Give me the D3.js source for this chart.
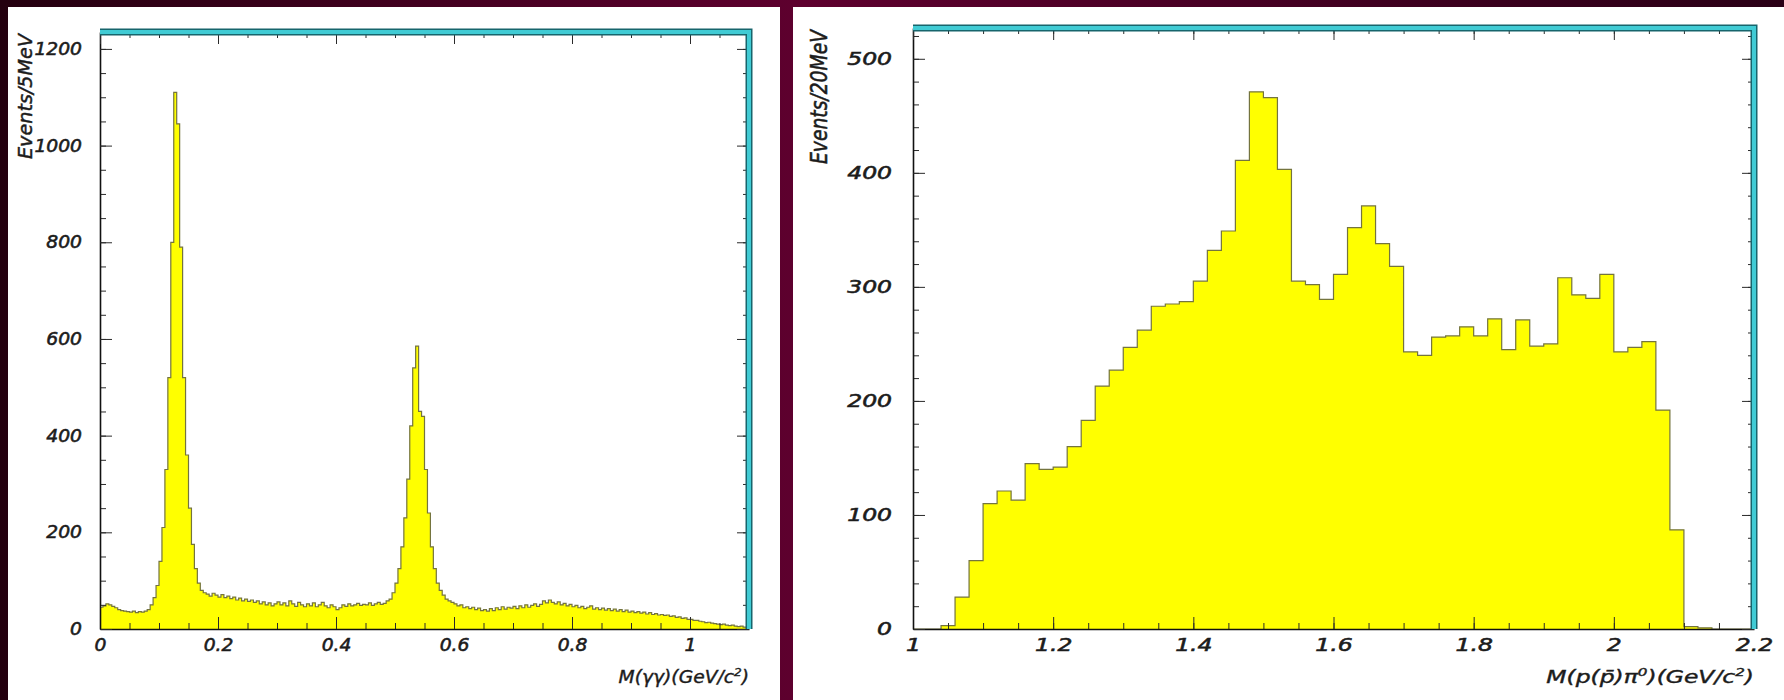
<!DOCTYPE html>
<html>
<head>
<meta charset="utf-8">
<script src="https://cdn.jsdelivr.net/npm/d3@7"></script>
<style>
  body { margin: 0; background: #3a001e; }
  svg { display: block; }
</style>
</head>
<body>
<svg id="chart" width="1784" height="700"></svg>
<script>
// M(gamma gamma), 5 MeV bins from 0 to 1.1 GeV
const ggRange = [0, 1.1];
const ggBin = 0.005;
const ggCounts = [
  45, 48, 52, 50, 47, 44, 40, 38, 37, 36,
  35, 37, 34, 36, 35, 37, 40, 50, 65, 90,
  140, 210, 330, 520, 800, 1110, 1045, 790, 520, 360,
  250, 175, 125, 95, 80, 75, 72, 68, 74, 70,
  66, 71, 65, 68, 63, 66, 60, 64, 58, 62,
  57, 60, 55, 58, 52, 56, 50, 54, 48, 52,
  56, 50, 54, 48, 58, 52, 47, 55, 50, 46,
  52, 48, 54, 46, 50, 55, 48, 44, 50, 46,
  40, 44, 50, 47, 52, 48, 50, 53, 49, 51,
  50, 54, 49, 52, 55, 51, 53, 58, 62, 75,
  95, 125, 170, 230, 310, 420, 540, 585, 450, 440,
  330, 240, 170, 125, 95, 80, 70, 62, 58, 55,
  52, 48, 50, 44, 46, 42, 45, 40, 43, 38,
  40, 37, 42, 38, 44, 40, 46, 41, 45, 43,
  47, 42, 48, 44, 50, 45, 49, 52, 47, 51,
  58, 54, 60, 55, 52, 56, 50, 53, 48, 51,
  46, 49, 44, 47, 42, 45, 48, 41, 44, 40,
  43, 39, 42, 38, 41, 37, 40, 36, 39, 35,
  37, 34, 36, 33, 35, 31, 34, 30, 32, 29,
  30, 28, 29, 26, 27, 24, 25, 22, 23, 20,
  20, 18, 18, 16, 15, 13, 14, 12, 11, 10,
  9, 10, 8, 7, 8, 6, 5, 6, 4, 3
];
const ggXTicks = [0, 0.2, 0.4, 0.6, 0.8, 1];
const ggYTicks = [0, 200, 400, 600, 800, 1000, 1200];

// M(p pbar pi0), 20 MeV bins from 1.0 to 2.2 GeV
const ppiRange = [1.0, 2.2];
const ppiBin = 0.02;
const ppiCounts = [
  0, 0, 3, 28, 60, 110, 121, 113, 145, 140,
  142, 160, 183, 213, 227, 247, 262, 283, 285, 287,
  305, 332, 349, 411, 471, 466, 403, 305, 302, 289,
  311, 352, 371, 338, 318, 243, 240, 256, 257, 265,
  257, 272, 245, 271, 248, 250, 308, 293, 290, 311,
  243, 247, 252, 192, 87, 2, 1, 0, 0, 0
];
const ppiXTicks = [1, 1.2, 1.4, 1.6, 1.8, 2, 2.2];
const ppiYTicks = [0, 100, 200, 300, 400, 500];

const svg = d3.select('#chart');

const defs = svg.append('defs');
const grad = defs.append('linearGradient').attr('id', 'bg').attr('x1', 0).attr('x2', 1).attr('y1', 0).attr('y2', 0);
grad.append('stop').attr('offset', 0).attr('stop-color', '#24000f');
grad.append('stop').attr('offset', 0.45).attr('stop-color', '#5e002e');
grad.append('stop').attr('offset', 1).attr('stop-color', '#2a0016');
svg.append('rect').attr('width', 1784).attr('height', 700).attr('fill', 'url(#bg)');

// white pages
svg.append('rect').attr('x', 8).attr('y', 7).attr('width', 772).attr('height', 693).attr('fill', '#fff');
svg.append('rect').attr('x', 793).attr('y', 7).attr('width', 991).attr('height', 693).attr('fill', '#fff');

const fmt = (d) => String(+d.toFixed(2));
const ink = '#1c1c1c';

// italic labels, stretched sideways like the scanned original
function styleText(sel, sx) {
  sel.attr('font-family', null).attr('font-size', null);
  sel.selectAll('text').each(function () {
    const t = d3.select(this);
    const x = +(t.attr('x') || 0);
    t.attr('x', x / sx)
      .attr('transform', `scale(${sx},1)`)
      .attr('font-family', 'DejaVu Sans, sans-serif')
      .attr('font-style', 'italic')
      .attr('font-size', 17)
      .attr('fill', ink)
      .attr('stroke', ink)
      .attr('stroke-width', 0.55);
  });
  sel.selectAll('line').attr('stroke', '#2a2a2a');
}

function drawPanel(o) {
  const g = svg.append('g');
  const x = d3.scaleLinear().domain(o.xDomain).range([o.left, o.right]);
  const y = d3.scaleLinear().domain(o.yDomain).range([o.bottom, o.top]);

  const pts = o.counts.map((c, i) => ({ x: o.xDomain[0] + i * o.bin, c }));
  pts.push({ x: o.xDomain[0] + o.counts.length * o.bin, c: o.counts[o.counts.length - 1] });

  g.append('path')
    .datum(pts)
    .attr('d', d3.area().curve(d3.curveStepAfter).x((d) => x(d.x)).y0(y(0)).y1((d) => y(d.c)))
    .attr('fill', '#ffff00');

  g.append('path')
    .datum(pts)
    .attr('d', d3.line().curve(d3.curveStepAfter).x((d) => x(d.x)).y((d) => y(d.c)))
    .attr('fill', 'none')
    .attr('stroke', '#74743e')
    .attr('stroke-width', 1.2);

  const xMinor = d3.range(o.xDomain[0], o.xDomain[1] + 1e-9, o.xMinor);
  const yMinor = d3.range(0, o.yDomain[1], o.yMinor);

  // minor ticks on all four sides
  [
    [d3.axisBottom(x).tickValues(xMinor), `translate(0,${o.bottom})`],
    [d3.axisTop(x).tickValues(xMinor), `translate(0,${o.top})`],
    [d3.axisLeft(y).tickValues(yMinor), `translate(${o.left},0)`],
    [d3.axisRight(y).tickValues(yMinor), `translate(${o.right},0)`],
  ].forEach(([ax, tr]) => {
    const a = g.append('g').attr('transform', tr)
      .call(ax.tickSize(-6).tickSizeOuter(0).tickFormat(''));
    a.select('.domain').remove();
    styleText(a, 1);
  });

  // major ticks, labelled on bottom and left
  const bx = g.append('g').attr('transform', `translate(0,${o.bottom})`)
    .call(d3.axisBottom(x).tickValues(o.xTicks).tickSize(-12).tickSizeOuter(0).tickPadding(10).tickFormat(fmt));
  const ly = g.append('g').attr('transform', `translate(${o.left},0)`)
    .call(d3.axisLeft(y).tickValues(o.yTicks).tickSize(-12).tickSizeOuter(0).tickPadding(o.yPad).tickFormat(fmt));
  const tx = g.append('g').attr('transform', `translate(0,${o.top})`)
    .call(d3.axisTop(x).tickValues(o.xTicks).tickSize(-12).tickSizeOuter(0).tickFormat(''));
  const ry = g.append('g').attr('transform', `translate(${o.right},0)`)
    .call(d3.axisRight(y).tickValues(o.yTicks).tickSize(-12).tickSizeOuter(0).tickFormat(''));
  [bx, ly, tx, ry].forEach((a) => styleText(a, o.sx));
  tx.select('.domain').remove();
  ry.select('.domain').remove();
  bx.select('.domain').attr('stroke', '#111').attr('stroke-width', 1.6);
  ly.select('.domain').attr('stroke', '#111').attr('stroke-width', 1.6);

  // cyan top/right frame
  const frame = `M${o.left},${o.top}L${o.right},${o.top}L${o.right},${o.bottom}`;
  g.append('path').attr('d', frame).attr('fill', 'none').attr('stroke', '#17656c').attr('stroke-width', 7);
  g.append('path').attr('d', frame).attr('fill', 'none').attr('stroke', '#40cbd4').attr('stroke-width', 4);

  // axis titles
  g.append('text')
    .attr('transform', `translate(${o.yTitleX},${o.top + 2}) scale(${o.sx},1) rotate(-90)`)
    .attr('text-anchor', 'end')
    .attr('font-family', 'DejaVu Sans, sans-serif')
    .attr('font-style', 'italic')
    .attr('font-size', 17)
    .attr('textLength', o.yTitleLen)
    .attr('lengthAdjust', 'spacingAndGlyphs')
    .attr('fill', ink)
    .attr('stroke', ink)
    .attr('stroke-width', 0.4)
    .text(o.yTitle);

  const xt = g.append('text')
    .attr('transform', `translate(${o.right},683) scale(${o.sx},1)`)
    .attr('text-anchor', 'end')
    .attr('font-family', 'DejaVu Sans, sans-serif')
    .attr('font-style', 'italic')
    .attr('font-size', 17)
    .attr('fill', ink)
    .attr('stroke', ink)
    .attr('stroke-width', 0.4);
  o.xTitle.forEach((part) => {
    const t = xt.append('tspan').text(part.t);
    if (part.sup) t.attr('font-size', 11).attr('dy', -7);
    if (part.down) t.attr('dy', 7);
  });
}

drawPanel({
  counts: ggCounts, bin: ggBin, xDomain: ggRange, yDomain: [0, 1235],
  left: 100, right: 749, top: 32, bottom: 629, sx: 1.1,
  xTicks: ggXTicks, yTicks: ggYTicks, xMinor: 0.05, yMinor: 50, yPad: 18,
  yTitle: 'Events/5MeV', yTitleX: 32, yTitleLen: 125,
  xTitle: [{ t: 'M(γγ)(GeV/c' }, { t: '2', sup: true }, { t: ')', down: true }],
});

drawPanel({
  counts: ppiCounts, bin: ppiBin, xDomain: ppiRange, yDomain: [0, 527],
  left: 913, right: 1754, top: 28, bottom: 629, sx: 1.38,
  xTicks: ppiXTicks, yTicks: ppiYTicks, xMinor: 0.05, yMinor: 20, yPad: 21,
  yTitle: 'Events/20MeV', yTitleX: 827, yTitleLen: 134,
  xTitle: [{ t: 'M(p(p\u0304)π' }, { t: '0', sup: true }, { t: ')(GeV/c', down: true }, { t: '2', sup: true }, { t: ')', down: true }],
});
</script>
</body>
</html>
